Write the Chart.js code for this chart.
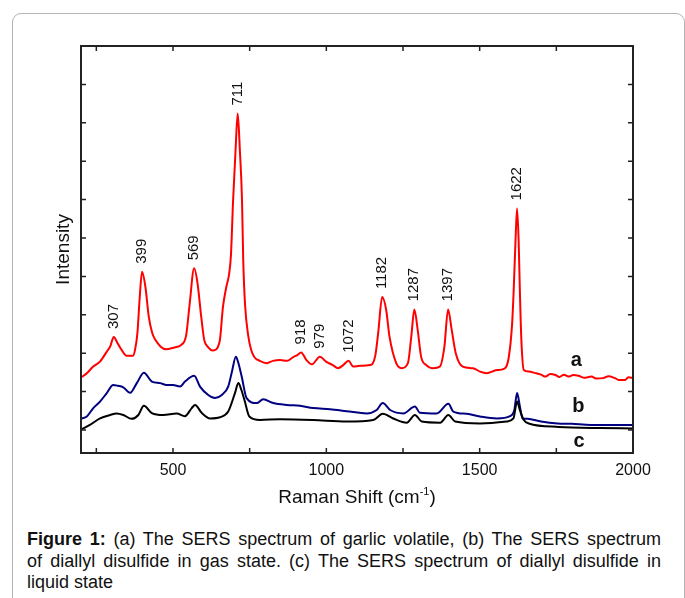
<!DOCTYPE html>
<html>
<head>
<meta charset="utf-8">
<script src="https://cdn.jsdelivr.net/npm/chart.js@4.4.1/dist/chart.umd.min.js"></script>
<style>
  html, body { margin: 0; padding: 0; background: #fff; }
  body { width: 685px; height: 598px; position: relative; overflow: hidden; font-family: "Liberation Sans", Arial, sans-serif; }
  #box { position: absolute; left: 12px; top: 13px; width: 671px; height: 640px; border: 1px solid #b4b4b4; border-radius: 9px; }
  #chartBox { position: absolute; left: 0; top: 0; width: 685px; height: 515px; }
  #caption { position: absolute; left: 27px; top: 529px; width: 634px; font-size: 18px; line-height: 21.5px; color: #111; }
  #caption .ln { text-align: justify; text-align-last: justify; }
</style>
</head>
<body>
<div id="box"></div>
<div id="chartBox"><canvas id="spectra" width="685" height="515"></canvas></div>
<div id="caption">
  <div class="ln"><b>Figure 1:</b> (a) The SERS spectrum of garlic volatile, (b) The SERS spectrum</div>
  <div class="ln">of diallyl disulfide in gas state. (c) The SERS spectrum of diallyl disulfide in</div>
  <div>liquid state</div>
</div>
<script>
// [Raman shift, intensity (a.u.)]
const spectrumA = [[203,1.38],[219,1.48],[240,1.65],[262,1.78],[284,2.04],[295,2.17],[307,2.42],[318,2.28],[333,2.08],
  [349,1.93],[369,1.93],[376,2.08],[384,2.53],[391,3.39],[399,4.12],[410,3.73],[421,2.95],[432,2.53],[443,2.34],
  [460,2.17],[477,2.10],[505,2.15],[526,2.21],[543,2.47],[554,3.26],[569,4.21],[580,3.82],[592,2.95],[602,2.34],
  [613,2.17],[630,2.07],[652,2.30],[663,3.21],[674,3.73],[683,4.06],[689,4.56],[696,5.99],[704,7.29],[711,8.24],
  [718,7.29],[725,5.99],[729,4.43],[735,3.26],[745,2.47],[755,2.08],[765,1.90],[783,1.80],[806,1.74],[826,1.80],
  [849,1.82],[872,1.80],[892,1.90],[905,1.95],[918,2.02],[935,1.82],[953,1.71],[979,1.91],[999,1.78],[1021,1.69],
  [1038,1.61],[1055,1.69],[1072,1.80],[1088,1.65],[1110,1.67],[1142,1.69],[1159,1.91],[1169,2.52],[1182,3.46],
  [1195,3.13],[1206,2.43],[1228,1.74],[1245,1.61],[1266,1.74],[1277,2.43],[1287,3.14],[1298,2.60],[1309,1.91],
  [1326,1.69],[1348,1.61],[1370,1.65],[1385,2.17],[1397,3.14],[1409,2.60],[1422,2.00],[1445,1.65],[1478,1.61],
  [1501,1.52],[1523,1.48],[1556,1.56],[1579,1.59],[1595,1.90],[1606,2.79],[1611,3.65],[1617,4.95],[1622,5.77],
  [1627,4.95],[1631,3.65],[1636,2.34],[1644,1.56],[1660,1.52],[1682,1.48],[1700,1.44],[1715,1.39],[1730,1.46],
  [1747,1.43],[1760,1.38],[1775,1.44],[1790,1.39],[1805,1.43],[1822,1.41],[1840,1.36],[1865,1.39],[1880,1.34],
  [1903,1.35],[1920,1.40],[1941,1.35],[1955,1.30],[1974,1.30],[1985,1.37],[2000,1.35]];

const spectrumB = [[202,0.30],[219,0.35],[240,0.57],[262,0.74],[284,0.96],[305,1.17],[320,1.15],[338,1.11],[360,0.97],
  [382,1.22],[405,1.49],[431,1.26],[458,1.22],[479,1.17],[500,1.17],[523,1.13],[539,1.26],[569,1.41],[588,1.13],
  [615,0.91],[637,0.83],[659,0.91],[680,1.13],[692,1.51],[705,1.91],[713,1.75],[724,1.39],[740,0.83],[773,0.70],
  [794,0.80],[827,0.70],[871,0.65],[914,0.63],[957,0.57],[1012,0.54],[1066,0.49],[1132,0.43],[1164,0.52],[1184,0.70],
  [1208,0.52],[1251,0.43],[1289,0.61],[1305,0.45],[1360,0.43],[1398,0.68],[1414,0.48],[1458,0.42],[1501,0.35],
  [1556,0.30],[1599,0.36],[1613,0.52],[1622,0.96],[1631,0.62],[1640,0.30],[1656,0.29],[1700,0.22],[1754,0.17],
  [1800,0.16],[1862,0.13],[1930,0.13],[2000,0.13]];

const spectrumC = [[202,0.02],[229,0.13],[262,0.30],[295,0.39],[316,0.43],[338,0.39],[365,0.29],[387,0.39],[405,0.63],
  [431,0.44],[468,0.39],[512,0.43],[539,0.36],[561,0.57],[572,0.65],[594,0.44],[621,0.30],[653,0.33],[680,0.48],
  [702,0.96],[713,1.22],[723,1.04],[733,0.78],[749,0.35],[784,0.26],[849,0.28],[957,0.26],[1066,0.22],[1153,0.26],
  [1184,0.42],[1218,0.30],[1262,0.19],[1289,0.39],[1311,0.22],[1371,0.19],[1398,0.39],[1420,0.22],[1501,0.17],
  [1588,0.22],[1610,0.30],[1622,0.74],[1631,0.52],[1644,0.26],[1660,0.17],[1758,0.08],[1890,0.05],[2000,0.04]];

const peakLabels = [307, 399, 569, 711, 918, 979, 1072, 1182, 1287, 1397, 1622];
const seriesTags = ['a', 'b', 'c'];
const xTickLabels = [500, 1000, 1500, 2000];
const xTickMarks = [250, 500, 750, 1000, 1250, 1500, 1750, 2000];
const yTickMarks = [0, 1, 2, 3, 4, 5, 6, 7, 8, 9, 10];

const FONT = '"Liberation Sans", Arial, sans-serif';

function toPoints(rows) {
  return rows.map(r => ({ x: r[0], y: r[1] }));
}

function valueAt(rows, x) {
  for (let i = 1; i < rows.length; i++) {
    if (rows[i][0] >= x) {
      const [x0, y0] = rows[i - 1], [x1, y1] = rows[i];
      return y0 + (y1 - y0) * (x - x0) / (x1 - x0);
    }
  }
  return rows[rows.length - 1][1];
}

// frame, inward ticks, peak labels, a/b/c tags and the x title
const annotate = {
  id: 'annotate',
  afterDraw(chart) {
    const { ctx, chartArea: a, scales: { x, y } } = chart;
    ctx.save();

    ctx.strokeStyle = '#222';
    ctx.lineWidth = 1.5;
    ctx.beginPath();
    xTickMarks.forEach(v => {
      const px = x.getPixelForValue(v);
      ctx.moveTo(px, a.bottom); ctx.lineTo(px, a.bottom - 5);
      ctx.moveTo(px, a.top); ctx.lineTo(px, a.top + 5);
    });
    yTickMarks.forEach(v => {
      const py = y.getPixelForValue(v);
      ctx.moveTo(a.left, py); ctx.lineTo(a.left + 5, py);
      ctx.moveTo(a.right, py); ctx.lineTo(a.right - 5, py);
    });
    ctx.stroke();

    ctx.lineWidth = 2;
    ctx.strokeRect(a.left, a.top, a.right - a.left, a.bottom - a.top);

    // peak positions
    ctx.fillStyle = '#111';
    ctx.font = '15px ' + FONT;
    ctx.textAlign = 'left';
    ctx.textBaseline = 'middle';
    peakLabels.forEach(p => {
      const px = x.getPixelForValue(p);
      const py = y.getPixelForValue(valueAt(spectrumA, p));
      ctx.save();
      ctx.translate(px, py - 8);
      ctx.rotate(-Math.PI / 2);
      ctx.fillText(String(p), 0, 0);
      ctx.restore();
    });

    // series tags
    const tagAt = { a: [1815, 1.82], b: [1822, 0.61], c: [1824, -0.30] };
    ctx.font = 'bold 20px ' + FONT;
    ctx.textAlign = 'center';
    seriesTags.forEach(t => {
      ctx.fillText(t, x.getPixelForValue(tagAt[t][0]), y.getPixelForValue(tagAt[t][1]));
    });

    // x axis title with superscript
    const main = 'Raman Shift (cm', sup = '-1', tail = ')';
    ctx.textAlign = 'left';
    ctx.textBaseline = 'alphabetic';
    ctx.font = '19px ' + FONT;
    const w1 = ctx.measureText(main).width, w3 = ctx.measureText(tail).width;
    ctx.font = '11px ' + FONT;
    const w2 = ctx.measureText(sup).width;
    const base = a.bottom + 50;
    let sx = (a.left + a.right) / 2 - (w1 + w2 + w3) / 2;
    ctx.font = '19px ' + FONT;
    ctx.fillText(main, sx, base);
    ctx.font = '11px ' + FONT;
    ctx.fillText(sup, sx + w1, base - 8);
    ctx.font = '19px ' + FONT;
    ctx.fillText(tail, sx + w1 + w2, base);

    ctx.restore();
  }
};

new Chart(document.getElementById('spectra'), {
  type: 'line',
  data: {
    datasets: [
      { label: 'a', data: toPoints(spectrumA), borderColor: '#ff0000', order: 1 },
      { label: 'b', data: toPoints(spectrumB), borderColor: '#000080', order: 2 },
      { label: 'c', data: toPoints(spectrumC), borderColor: '#000000', order: 0 }
    ]
  },
  options: {
    responsive: false,
    animation: false,
    devicePixelRatio: 1,
    elements: {
      point: { radius: 0 },
      line: { borderWidth: 2, cubicInterpolationMode: 'monotone' }
    },
    layout: { padding: { top: 46, right: 52, left: 0, bottom: 0 } },
    plugins: { legend: { display: false }, tooltip: { enabled: false } },
    scales: {
      x: {
        type: 'linear', min: 200, max: 2000,
        grid: { display: false, drawTicks: false },
        border: { display: false },
        afterBuildTicks: s => { s.ticks = xTickLabels.map(v => ({ value: v })); },
        afterFit: s => { s.height = 62; },
        ticks: { padding: 8, color: '#111', autoSkip: false, maxRotation: 0,
                 font: { family: FONT, size: 16 }, callback: v => String(v) }
      },
      y: {
        type: 'linear', min: -0.6, max: 10,
        grid: { display: false, drawTicks: false },
        border: { display: false },
        ticks: { display: false },
        afterFit: s => { s.width = 81; },
        title: { display: true, text: 'Intensity', color: '#111',
                 font: { family: FONT, size: 19 }, padding: { top: 52, bottom: 0 } }
      }
    }
  },
  plugins: [annotate]
});
</script>
</body>
</html>
